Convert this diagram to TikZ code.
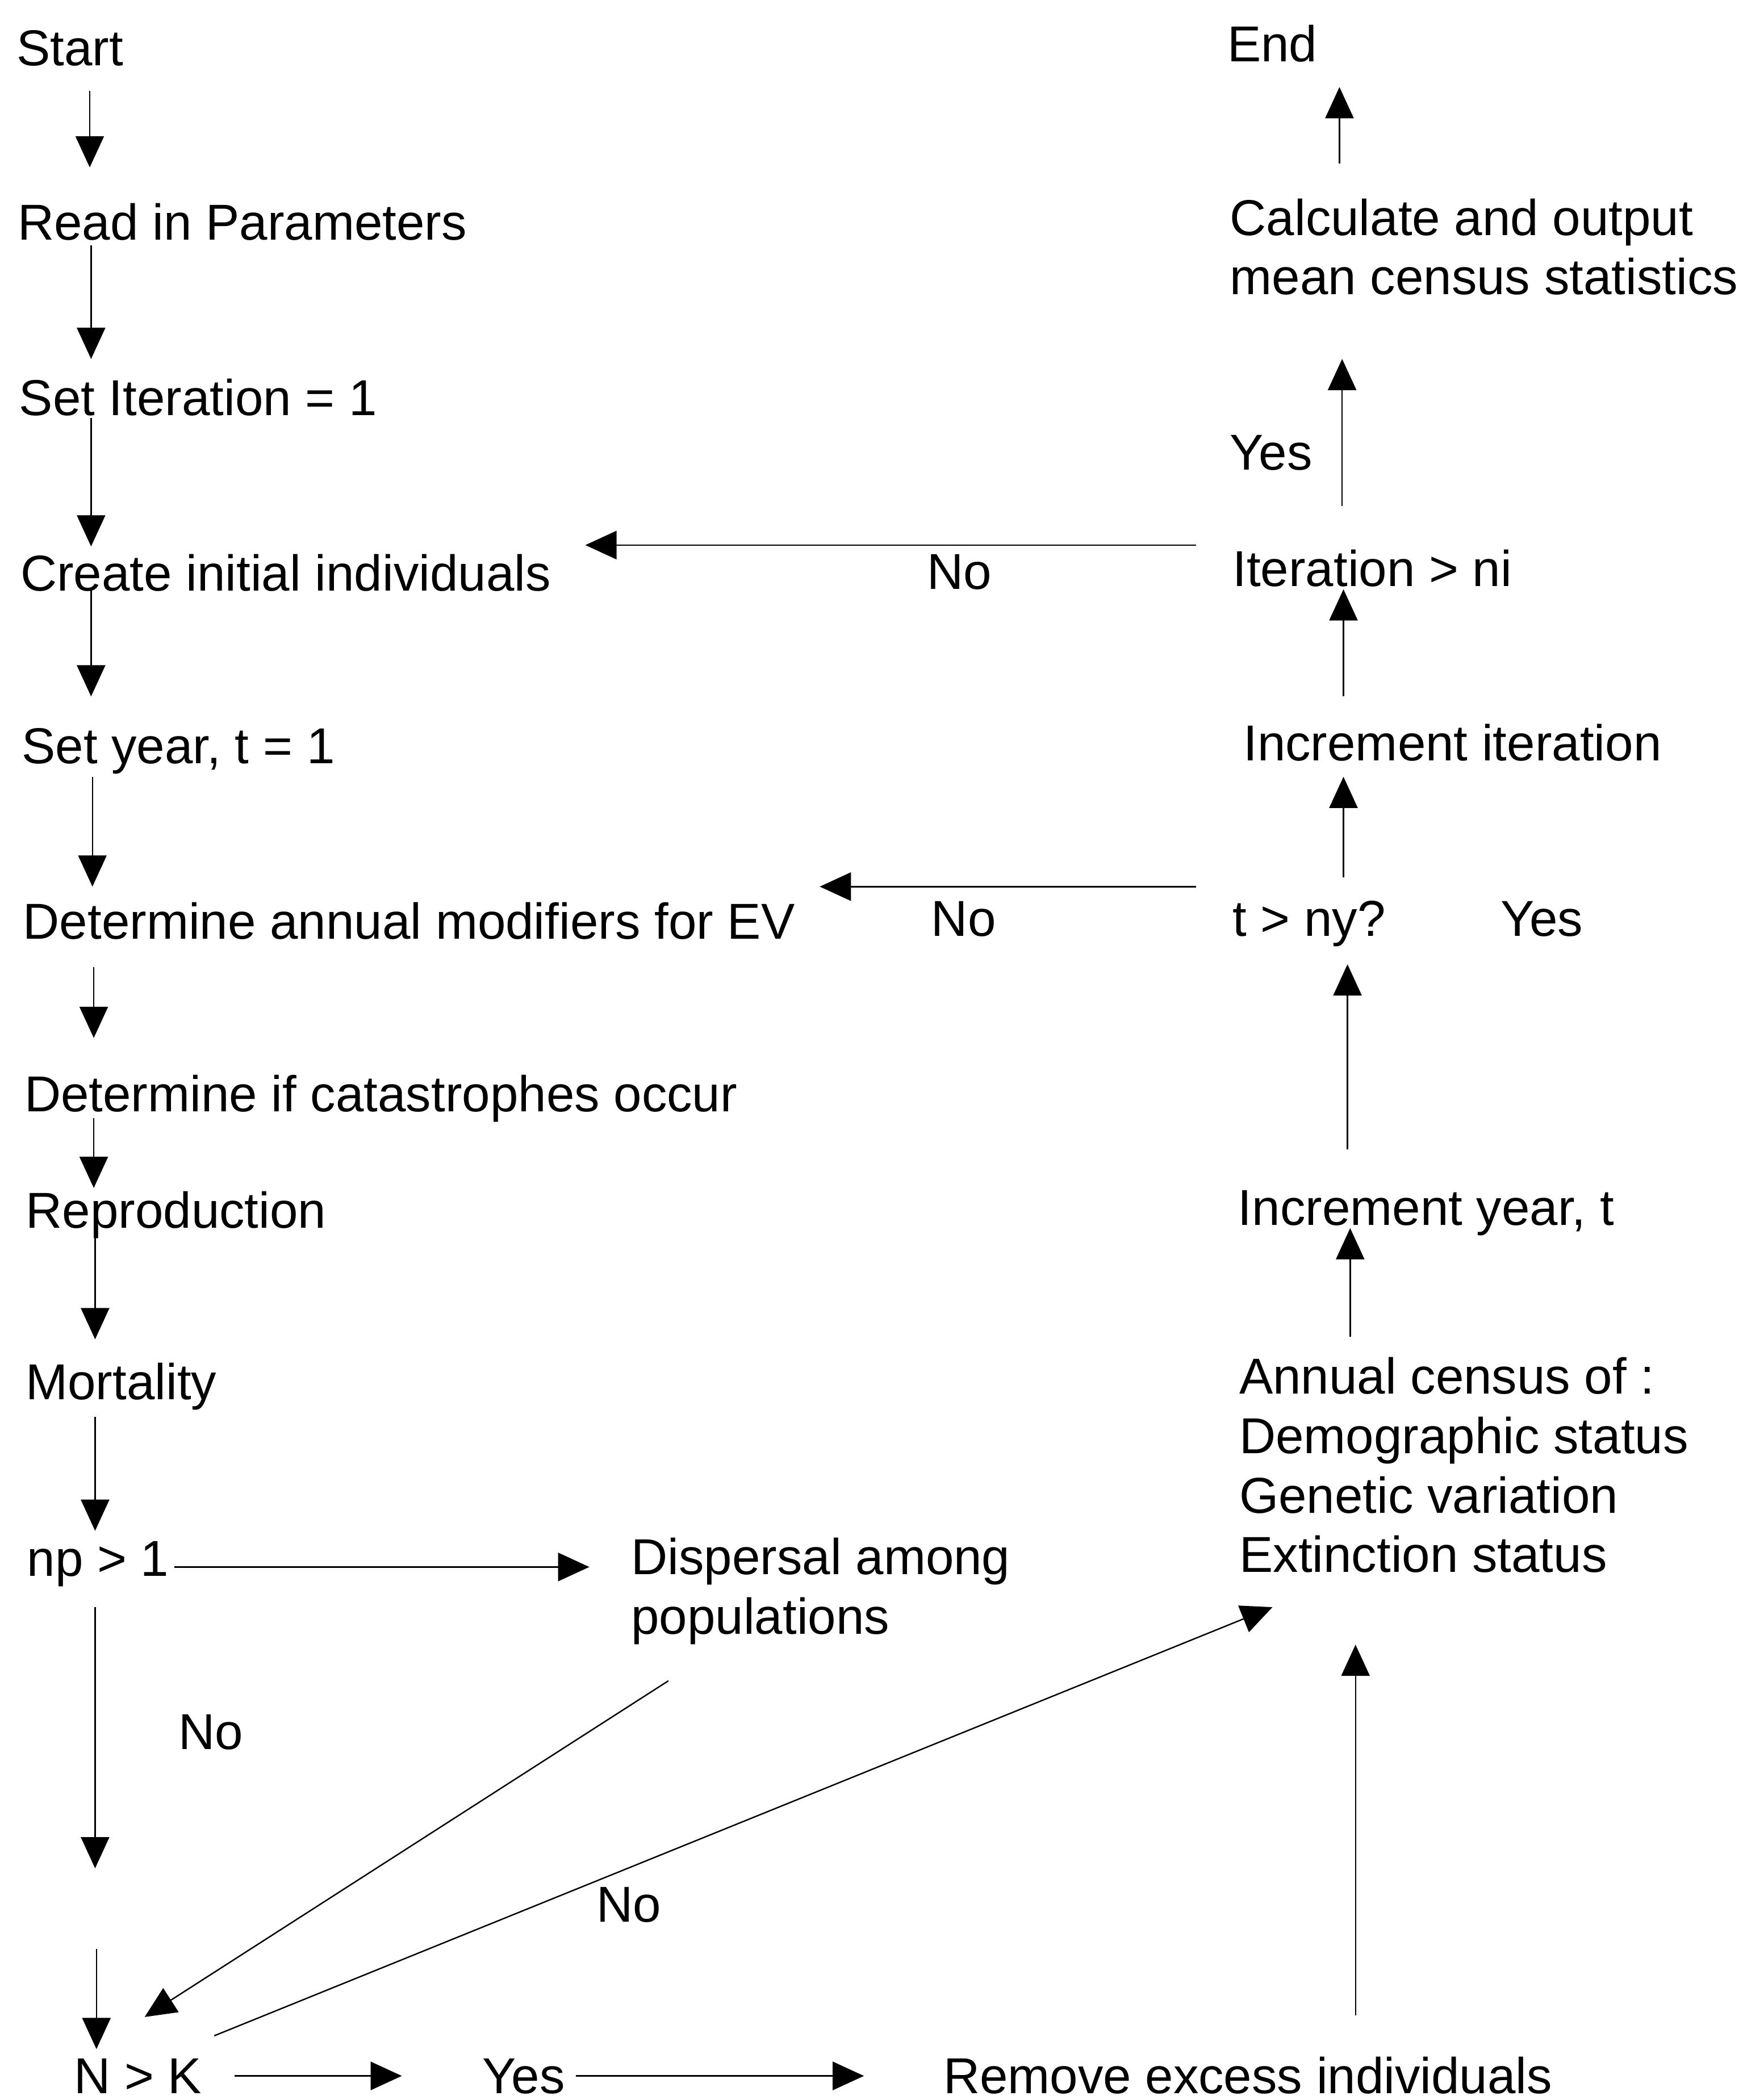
\documentclass[tikz,border=0pt]{standalone}
\usepackage{fontspec}
\setmainfont{Liberation Sans}
\usetikzlibrary{arrows.meta}

\tikzset{
  txt/.style = {anchor = base west, inner sep = 0pt, align = left, font = \fontsize{25.3}{29.8}\selectfont},
  arr/.style = {line width = 0.7pt, -{Triangle[length = 0.55cm, width = 0.5cm]}}
}

\begin{document}
\begin{tikzpicture}[x = 0.02359cm, y = {(0cm,-0.02359cm)}]
\useasboundingbox (0, 0) rectangle (1301, 1568);
% left column
\node[txt] (start) at (12, 49) {Start};
\node[txt] (read) at (13, 179) {Read in Parameters};
\node[txt] (setit) at (14, 310) {Set Iteration = 1};
\node[txt] (create) at (15, 441) {Create initial individuals};
\node[txt] (setyear) at (16, 570) {Set year, t = 1};
\node[txt] (detev) at (17, 701) {Determine annual modifiers for EV};
\node[txt] (detcat) at (18, 830) {Determine if catastrophes occur};
\node[txt] (repro) at (19, 917) {Reproduction};
\node[txt] (mort) at (19, 1045) {Mortality};
\node[txt] (np) at (20, 1177) {np > 1};
\node[txt] (disp) at (471, 1220) {Dispersal among\\populations};
\node[txt] (nk) at (55, 1563) {N > K};
\node[txt] (yesrm) at (360, 1563) {Yes};
\node[txt] (remove) at (704, 1563) {Remove excess individuals};
% right column
\node[txt] (endn) at (916, 46) {End};
\node[txt] (calc) at (918, 220) {Calculate and output\\mean census statistics};
\node[txt] (iter) at (920, 438) {Iteration > ni};
\node[txt] (incit) at (928, 568) {Increment iteration};
\node[txt] (tny) at (920, 699) {t > ny?};
\node[txt] (incyr) at (924, 915) {Increment year, t};
\node[txt] (census) at (925, 1174) {Annual census of :\\Demographic status\\Genetic variation\\Extinction status};
% labels
\node[txt] (yesit) at (918, 351) {Yes};
\node[txt] (noit) at (692, 440) {No};
\node[txt] (noyr) at (695, 699) {No};
\node[txt] (yesyr) at (1120, 699) {Yes};
\node[txt] (nonp) at (133, 1306) {No};
\node[txt] (nonk) at (445, 1435) {No};
\coordinate (npdrop) at (71, 1395);
\coordinate (nkdrop) at (72, 1455);

% down the left
\draw[arr] ([shift = {(55, 19)}]start.base west) -- ([shift = {(54, -54)}]read.base west);
\draw[arr] ([shift = {(55, 4)}]read.base west) -- ([shift = {(54, -42)}]setit.base west);
\draw[arr] ([shift = {(54, 2)}]setit.base west) -- ([shift = {(53, -33)}]create.base west);
\draw[arr] ([shift = {(53, -1)}]create.base west) -- ([shift = {(52, -50)}]setyear.base west);
\draw[arr] ([shift = {(53, 10)}]setyear.base west) -- ([shift = {(52, -39)}]detev.base west);
\draw[arr] ([shift = {(53, 21)}]detev.base west) -- ([shift = {(52, -55)}]detcat.base west);
\draw[arr] ([shift = {(52, 5)}]detcat.base west) -- ([shift = {(51, -30)}]repro.base west);
\draw[arr] ([shift = {(52, 1)}]repro.base west) -- ([shift = {(52, -45)}]mort.base west);
\draw[arr] ([shift = {(52, 13)}]mort.base west) -- ([shift = {(51, -34)}]np.base west);
\draw[arr] ([shift = {(110, -7)}]np.base west) -- ([shift = {(-31, -50)}]disp.base west);
\draw[arr] ([shift = {(51, 23)}]np.base west) -- (npdrop);
\draw[arr] (nkdrop) -- ([shift = {(17, -33)}]nk.base west);
\draw[arr] ([shift = {(28, 35)}]disp.base west) -- ([shift = {(53, -57)}]nk.base west);
\draw[arr] ([shift = {(105, -43)}]nk.base west) -- ([shift = {(25, 26)}]census.base west);
\draw[arr] ([shift = {(120, -13)}]nk.base west) -- ([shift = {(-60, -13)}]yesrm.base west);
\draw[arr] ([shift = {(70, -13)}]yesrm.base west) -- ([shift = {(-59, -13)}]remove.base west);
% up the right
\draw[arr] ([shift = {(308, -58)}]remove.base west) -- ([shift = {(87, 54)}]census.base west);
\draw[arr] ([shift = {(83, -176)}]census.base west) -- ([shift = {(84, 2)}]incyr.base west);
\draw[arr] ([shift = {(82, -57)}]incyr.base west) -- ([shift = {(86, 21)}]tny.base west);
\draw[arr] ([shift = {(83, -44)}]tny.base west) -- ([shift = {(75, 12)}]incit.base west);
\draw[arr] ([shift = {(-27, -37)}]tny.base west) -- ([shift = {(595, -39)}]detev.base west);
\draw[arr] ([shift = {(75, -48)}]incit.base west) -- ([shift = {(83, 2)}]iter.base west);
\draw[arr] ([shift = {(-27, -31)}]iter.base west) -- ([shift = {(422, -34)}]create.base west);
\draw[arr] ([shift = {(82, -60)}]iter.base west) -- ([shift = {(84, 48)}]calc.base west);
\draw[arr] ([shift = {(82, -98)}]calc.base west) -- ([shift = {(84, 19)}]endn.base west);
\end{tikzpicture}
\end{document}
